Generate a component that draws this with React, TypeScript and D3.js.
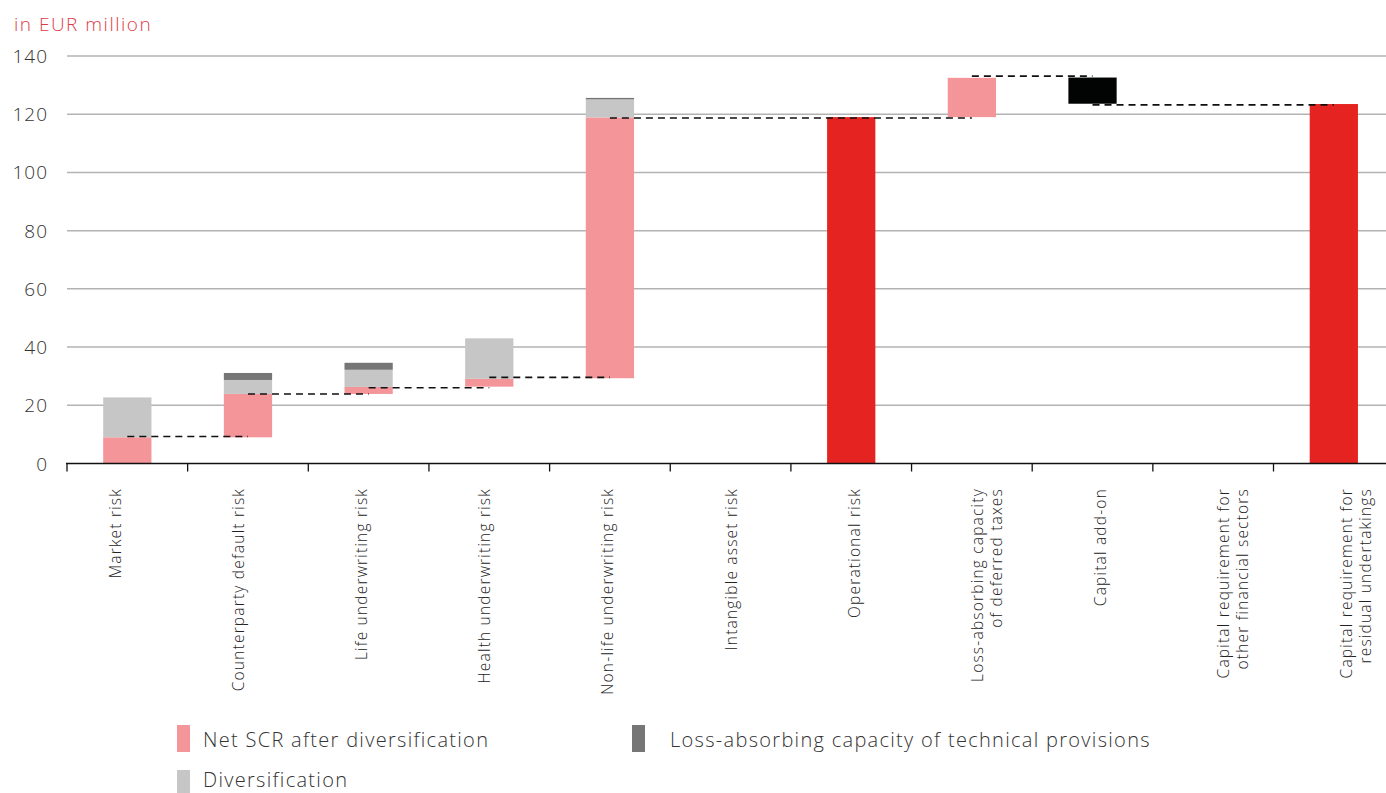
import React from "react";
import * as d3 from "d3";

const categories = [
  ["Market risk"],
  ["Counterparty default risk"],
  ["Life underwriting risk"],
  ["Health underwriting risk"],
  ["Non-life underwriting risk"],
  ["Intangible asset risk"],
  ["Operational risk"],
  ["Loss-absorbing capacity", "of deferred taxes"],
  ["Capital add-on"],
  ["Capital requirement for", "other financial sectors"],
  ["Capital requirement for", "residual undertakings"],
];

// floating start of each stacked column
const start = [0, 9.0, 23.9, 26.4, 29.3, 0, 0, 119.0, 123.6, 0, 0];
const netSCR = [9.0, 14.9, 2.4, 2.7, 89.6, 0, 0, 13.5, 0, 0, 0];
const diversification = [13.7, 4.8, 5.9, 13.9, 6.2, 0, 0, 0, 0, 0, 0];
const lacTechnicalProvisions = [0, 2.4, 2.4, 0, 0.5, 0, 0, 0, 0, 0, 0];
const capitalAddOn = [0, 0, 0, 0, 0, 0, 0, 0, 9.0, 0, 0];
const totals = [0, 0, 0, 0, 0, 0, 119.0, 0, 0, 0, 123.5];

const connectors = [
  { from: 0, to: 1, value: 9.3 },
  { from: 1, to: 2, value: 23.9 },
  { from: 2, to: 3, value: 26.0 },
  { from: 3, to: 4, value: 29.6 },
  { from: 4, to: 7, value: 118.7 },
  { from: 7, to: 8, value: 133.1 },
  { from: 8, to: 10, value: 123.2 },
];

const yTicks = [0, 20, 40, 60, 80, 100, 120, 140];

const COLORS = {
  net: "#F4959A",
  div: "#C6C6C6",
  lac: "#767676",
  addOn: "#020404",
  total: "#E52421",
};

const FONT = "'Open Sans', 'Noto Sans', sans-serif";

export default function App() {
  const W = 1386;
  const H = 793;
  const idx = categories.map((_, i) => String(i));
  const x = d3.scaleBand().domain(idx).range([67, 67 + 120.65 * 11]).padding(0);
  const labelX = d3.scalePoint().domain(idx).range([121, 1352]);
  const y = d3.scaleLinear().domain([0, 140]).range([463.5, 56]);
  const bw = x.bandwidth() * 0.4;
  const cx = (i: number) => (x(String(i)) as number) + x.bandwidth() / 2;

  const segs: { i: number; lo: number; hi: number; color: string }[] = [];
  categories.forEach((_, i) => {
    let b = start[i];
    const parts: [number, string][] = [
      [netSCR[i], COLORS.net],
      [diversification[i], COLORS.div],
      [lacTechnicalProvisions[i], COLORS.lac],
      [capitalAddOn[i], COLORS.addOn],
      [totals[i], COLORS.total],
    ];
    parts.forEach(([v, c]) => {
      if (v > 0) {
        segs.push({ i, lo: b, hi: b + v, color: c });
        b += v;
      }
    });
  });

  return (
    <svg
      width={W}
      height={H}
      style={{ position: "absolute", left: 0, top: 0, display: "block" }}
      fontFamily={FONT}
    >
      <text x={14} y={31} fontSize={19} fill="#E03A47" fontWeight={300} letterSpacing={1.5}>
        in EUR million
      </text>
      {yTicks.map((t) => (
        <g key={t}>
          {t > 0 && (
            <line x1={67} x2={W} y1={y(t)} y2={y(t)} stroke="#B3B3B3" strokeWidth={1.5} />
          )}
          <text
            x={48}
            y={y(t) + 7}
            fontSize={19}
            textAnchor="end"
            fill="#333"
            fontWeight={300}
            letterSpacing={1}
          >
            {t}
          </text>
        </g>
      ))}
      {segs.map((s, k) => (
        <rect
          key={k}
          x={cx(s.i) - bw / 2}
          width={bw}
          y={y(s.hi)}
          height={y(s.lo) - y(s.hi)}
          fill={s.color}
        />
      ))}
      {connectors.map((c, k) => (
        <line
          key={k}
          x1={cx(c.from)}
          x2={cx(c.to)}
          y1={y(c.value)}
          y2={y(c.value)}
          stroke="#111"
          strokeWidth={1.6}
          strokeDasharray="7,5"
        />
      ))}
      <line x1={66} x2={W} y1={y(0)} y2={y(0)} stroke="#111" strokeWidth={1.6} />
      {idx.map((d) => (
        <line
          key={d}
          x1={x(d) as number}
          x2={x(d) as number}
          y1={y(0)}
          y2={y(0) + 8}
          stroke="#111"
          strokeWidth={1.3}
        />
      ))}
      {categories.map((lines, i) => (
        <text
          key={i}
          transform={`translate(${labelX(String(i))},488) rotate(-90)`}
          textAnchor="end"
          fontSize={15.5}
          fill="#222"
          fontWeight={300}
          letterSpacing={1.2}
        >
          {lines.map((l, j) => (
            <tspan key={j} x={0} dy={j === 0 ? 0 : 19}>
              {l}
            </tspan>
          ))}
        </text>
      ))}
      <g fontSize={20} fill="#333" fontWeight={300} letterSpacing={1.3}>
        <rect x={177} y={725} width={13} height={27} fill={COLORS.net} />
        <text x={203} y={747}>Net SCR after diversification</text>
        <rect x={632} y={725} width={13} height={27} fill={COLORS.lac} />
        <text x={670} y={747}>Loss-absorbing capacity of technical provisions</text>
        <rect x={177} y={770} width={13} height={23} fill={COLORS.div} />
        <text x={203} y={787}>Diversification</text>
      </g>
    </svg>
  );
}
